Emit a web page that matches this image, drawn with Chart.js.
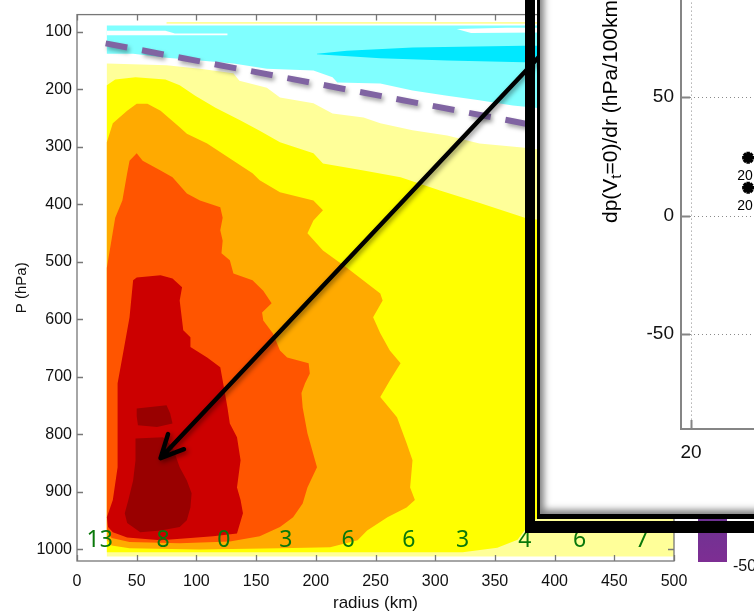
<!DOCTYPE html>
<html>
<head>
<meta charset="utf-8">
<script src="https://cdn.jsdelivr.net/npm/chart.js"></script>
<style>
  html, body { margin: 0; padding: 0; background: #fff; }
  body { width: 754px; height: 615px; position: relative; overflow: hidden; }
  #main { position: absolute; left: 0; top: 0; }
  #insetBox { position: absolute; left: 537px; top: -20px; width: 300px; height: 539px; box-sizing: border-box;
    background: #fff; border-left: 3px solid #000; border-bottom: 5px solid #000;
    box-shadow: inset 7px -7px 7px -3px rgba(0,0,0,0.5); }
  #inset { position: absolute; left: 540px; top: -40px; }
  #frame { position: absolute; left: 525px; top: -20px; width: 300px; height: 553px; box-sizing: border-box;
    border-left: 10px solid #000; border-bottom: 12px solid #000; }
</style>
</head>
<body>
<canvas id="main" width="754" height="615"></canvas>
<div id="insetBox"></div>
<canvas id="inset" width="400" height="553"></canvas>
<div id="frame"></div>
<script>
  // axes
  const xTicks = [0, 50, 100, 150, 200, 250, 300, 350, 400, 450, 500];
  const yTicks = [100, 200, 300, 400, 500, 600, 700, 800, 900, 1000];

  // filled contour regions, [radius km, pressure hPa]
  const paleYellowArea = [[25,155],[75,158],[103,164],[131,172],[136,185],[159,197],[170,214],[198,224],[214,242],[240,249],[254,259],[281,271],[310,280],[327,289],[337,294],[373,301],[500,332],[500,1012],[25,1012]];
  const cyanArea = [[25,89],[500,89],[500,263],[388,233],[365,228],[337,219],[310,211],[281,202],[254,190],[218,188],[214,179],[198,167],[159,164],[131,155],[103,150],[75,145],[47,138],[25,138]];
  const darkCyanArea = [[201,138],[226,133],[281,127],[374,124],[500,124],[500,153],[374,153],[310,150],[254,146],[201,139]];
  const gapArea1 = [[25,98],[74,98],[82,103],[126,103],[126,106],[25,106]];
  const gapArea2 = [[318,95],[360,93],[388,93],[388,101],[330,102]];
  const topLineArea = [[75,83],[500,83],[500,86],[75,86]];
  const yellowArea = [[25,193],[32,183],[49,179],[74,183],[86,193],[99,211],[116,232],[137,254],[153,272],[170,292],[198,311],[206,329],[240,341],[271,353],[304,376],[338,398],[375,423],[500,463],[438,827],[388,940],[375,966],[369,983],[352,997],[323,1005],[254,1005],[25,1005]];
  const orangeArea = [[25,292],[30,259],[42,237],[50,225],[59,225],[70,237],[86,266],[92,277],[109,294],[131,324],[147,346],[153,358],[170,379],[198,393],[206,410],[198,428],[193,450],[206,480],[226,510],[254,555],[256,567],[248,596],[254,624],[262,654],[271,676],[262,706],[254,735],[268,770],[276,815],[281,845],[279,892],[283,914],[276,927],[260,944],[243,967],[235,984],[212,996],[170,998],[103,1000],[44,998],[29,993],[25,984]];
  const orangeRedArea = [[25,510],[32,423],[38,393],[42,346],[44,324],[50,311],[55,324],[70,341],[80,353],[92,381],[103,393],[120,405],[122,423],[120,445],[122,463],[121,485],[128,497],[131,520],[147,532],[156,550],[163,572],[155,588],[156,602],[164,624],[170,654],[176,666],[194,676],[195,694],[191,711],[188,728],[189,753],[193,798],[201,857],[193,892],[189,920],[181,944],[170,961],[153,977],[128,986],[86,989],[44,987],[29,980],[25,967]];
  const redArea = [[47,532],[50,527],[70,523],[80,529],[88,544],[86,567],[89,619],[95,631],[95,648],[109,666],[120,683],[122,706],[126,753],[128,781],[134,805],[137,845],[134,892],[137,914],[139,937],[134,972],[114,977],[95,980],[70,984],[42,979],[30,970],[26,961],[25,944],[30,914],[34,857],[34,775],[34,711],[39,654],[44,596]];
  const darkRedArea1 = [[50,755],[75,749],[78,763],[80,781],[67,787],[51,784],[50,768]];
  const darkRedArea2 = [[49,807],[72,805],[80,822],[86,857],[92,880],[96,902],[95,927],[92,949],[86,961],[70,967],[53,970],[42,954],[40,937],[43,914],[47,880],[49,845]];

  const tropopauseLine = [[24,120],[500,309]];
  const arrowFrom = [388, 141];
  const arrowTo = [70, 841];

  const bottomLabelR = [19, 72, 123, 175, 227, 278, 323, 375, 421, 473];
  const bottomLabelText = ['13', '8', '0', '3', '6', '6', '3', '4', '6', '7'];
  const bottomLabelP = 996;

  const cbarLabel = '-50';

  // inset
  const insetX = [32.7, 32.7];
  const insetY = [24.4, 11.8];
  const insetPointLabels = ['20', '20'];
  const insetXTicks = [20, 40, 60];
  const insetYTicks = [-50, 0, 50];

  const FONT = "'Liberation Sans', Arial, sans-serif";

  const layers = [
    [paleYellowArea, '#FFFF99'],
    [cyanArea, '#80FFFF'],
    [darkCyanArea, '#00E8FF'],
    [gapArea1, '#FFFFFF'],
    [gapArea2, '#FFFFFF'],
    [topLineArea, '#FFFF99'],
    [yellowArea, '#FFFF00'],
    [orangeArea, '#FFAA00'],
    [orangeRedArea, '#FF5500'],
    [redArea, '#CC0000'],
    [darkRedArea1, '#990000'],
    [darkRedArea2, '#990000']
  ];

  const toXY = arr => arr.map(([x, y]) => ({ x, y }));

  const datasets = layers.map(([pts, col], i) => ({
    data: toXY(pts),
    backgroundColor: col,
    borderColor: 'rgba(0,0,0,0)',
    borderWidth: 0,
    fill: 'shape',
    pointRadius: 0,
    tension: 0,
    order: 100 - i
  }));
  datasets.push({
    data: toXY(tropopauseLine),
    borderColor: '#8064A2',
    borderWidth: 6,
    borderDash: [22, 15],
    borderCapStyle: 'butt',
    fill: false,
    pointRadius: 0,
    order: 0,
    isDash: true
  });

  const mainDecor = {
    id: 'mainDecor',
    beforeDatasetDraw(chart, args) {
      if (chart.data.datasets[args.index].isDash) {
        const ctx = chart.ctx;
        ctx.save();
        ctx.shadowColor = 'rgba(0,0,0,0.35)';
        ctx.shadowBlur = 4;
        ctx.shadowOffsetX = 2;
        ctx.shadowOffsetY = 3;
      }
    },
    afterDatasetDraw(chart, args) {
      if (chart.data.datasets[args.index].isDash) chart.ctx.restore();
    },
    afterDatasetsDraw(chart) {
      const { ctx, scales: { x, y } } = chart;
      // green numbers along the bottom
      ctx.save();
      ctx.fillStyle = '#0A780A';
      ctx.font = "23px 'Noto Sans', sans-serif";
      ctx.textAlign = 'center';
      ctx.textBaseline = 'alphabetic';
      bottomLabelR.forEach((r, i) => {
        ctx.fillText(bottomLabelText[i], x.getPixelForValue(r), y.getPixelForValue(bottomLabelP));
      });
      ctx.restore();

      // arrow
      const x0 = x.getPixelForValue(arrowFrom[0]), y0 = y.getPixelForValue(arrowFrom[1]);
      const x1 = x.getPixelForValue(arrowTo[0]), y1 = y.getPixelForValue(arrowTo[1]);
      const ang = Math.atan2(y0 - y1, x0 - x1);
      const len = 25, spread = 26 * Math.PI / 180;
      ctx.save();
      ctx.strokeStyle = '#000';
      ctx.lineWidth = 4.5;
      ctx.lineCap = 'round';
      ctx.lineJoin = 'round';
      ctx.shadowColor = 'rgba(0,0,0,0.45)';
      ctx.shadowBlur = 5;
      ctx.shadowOffsetX = 2;
      ctx.shadowOffsetY = 2;
      ctx.beginPath();
      ctx.moveTo(x0, y0);
      ctx.lineTo(x1, y1);
      ctx.moveTo(x1 + len * Math.cos(ang - spread), y1 + len * Math.sin(ang - spread));
      ctx.lineTo(x1, y1);
      ctx.lineTo(x1 + len * Math.cos(ang + spread), y1 + len * Math.sin(ang + spread));
      ctx.stroke();
      ctx.restore();
    },
    afterDraw(chart) {
      const { ctx, chartArea: { left, right, top, bottom }, scales: { x, y } } = chart;
      ctx.save();
      ctx.strokeStyle = '#777';
      ctx.lineWidth = 1.3;
      ctx.strokeRect(left, top, right - left, bottom - top);
      ctx.beginPath();
      xTicks.forEach(v => {
        const px = Math.round(x.getPixelForValue(v)) + 0.5;
        ctx.moveTo(px, bottom); ctx.lineTo(px, bottom - 6);
        ctx.moveTo(px, top); ctx.lineTo(px, top + 6);
      });
      yTicks.forEach(v => {
        const py = Math.round(y.getPixelForValue(v)) + 0.5;
        ctx.moveTo(left, py); ctx.lineTo(left + 6, py);
        ctx.moveTo(right, py); ctx.lineTo(right - 6, py);
      });
      ctx.stroke();

      // colorbar piece
      const cx = right + 24;
      const g = ctx.createLinearGradient(0, bottom - 60, 0, bottom);
      g.addColorStop(0, '#673593');
      g.addColorStop(1, '#7D2E93');
      ctx.fillStyle = g;
      ctx.fillRect(cx, bottom - 60, 29, 61);
      ctx.fillStyle = '#111';
      ctx.font = '16px ' + FONT;
      ctx.textAlign = 'left';
      ctx.textBaseline = 'middle';
      ctx.fillText(cbarLabel, cx + 35, bottom + 6);
      ctx.restore();
    }
  };

  new Chart(document.getElementById('main'), {
    type: 'line',
    data: { datasets: datasets },
    options: {
      responsive: false,
      animation: false,
      events: [],
      layout: { padding: { left: 0, top: 14, right: 80, bottom: 0 } },
      plugins: { legend: { display: false }, tooltip: { enabled: false } },
      scales: {
        x: {
          type: 'linear', min: 0, max: 500,
          afterBuildTicks: s => { s.ticks = xTicks.map(v => ({ value: v })); },
          afterFit: s => { s.height = 54; },
          grid: { display: false, drawTicks: false },
          border: { display: false },
          ticks: { color: '#111', font: { family: FONT, size: 16 }, padding: 11, maxRotation: 0, autoSkip: false, callback: v => String(v) },
          title: { display: true, text: 'radius (km)', color: '#111', font: { family: FONT, size: 17, lineHeight: 1.2 }, padding: { top: 0, bottom: 1 } }
        },
        y: {
          type: 'linear', min: 70, max: 1020, reverse: true,
          afterBuildTicks: s => { s.ticks = yTicks.map(v => ({ value: v })); },
          afterFit: s => { s.width = 77; },
          grid: { display: false, drawTicks: false },
          border: { display: false },
          ticks: { color: '#111', font: { family: FONT, size: 16 }, padding: 5, autoSkip: false, callback: v => String(v) },
          title: { display: true, text: 'P (hPa)', color: '#111', font: { family: FONT, size: 15, lineHeight: 1.2 }, padding: { top: 13, bottom: 0 } }
        }
      }
    },
    plugins: [mainDecor]
  });

  const insetDecor = {
    id: 'insetDecor',
    beforeDatasetsDraw(chart) {
      const { ctx, chartArea: { left, right, top, bottom }, scales: { x, y } } = chart;
      ctx.save();
      ctx.strokeStyle = '#8a8a8a';
      ctx.lineWidth = 1;
      ctx.setLineDash([1, 3]);
      ctx.beginPath();
      insetYTicks.forEach(v => {
        const py = Math.round(y.getPixelForValue(v)) + 0.5;
        ctx.moveTo(left + 9, py); ctx.lineTo(right, py);
      });
      insetXTicks.forEach(v => {
        const px = Math.round(x.getPixelForValue(v)) + 0.5;
        ctx.moveTo(px, top); ctx.lineTo(px, bottom - 9);
      });
      ctx.stroke();
      ctx.restore();
    },
    afterDraw(chart) {
      const { ctx, chartArea: { left, right, top, bottom }, scales: { x, y } } = chart;
      ctx.save();
      ctx.strokeStyle = '#858585';
      ctx.lineWidth = 2;
      ctx.beginPath();
      ctx.moveTo(left, 0); ctx.lineTo(left, bottom); ctx.lineTo(chart.width, bottom);
      insetYTicks.forEach(v => {
        const py = Math.round(y.getPixelForValue(v)) + 0.5;
        ctx.moveTo(left, py); ctx.lineTo(left + 9, py);
      });
      insetXTicks.forEach(v => {
        const px = Math.round(x.getPixelForValue(v)) + 0.5;
        ctx.moveTo(px, bottom); ctx.lineTo(px, bottom - 9);
      });
      ctx.stroke();

      // y axis title with subscript
      ctx.fillStyle = '#000';
      ctx.translate(71, 263);
      ctx.rotate(-Math.PI / 2);
      ctx.textBaseline = 'middle';
      ctx.textAlign = 'left';
      ctx.font = '21px ' + FONT;
      const a = 'dp(V';
      ctx.fillText(a, 0, 0);
      let w = ctx.measureText(a).width;
      ctx.font = '15px ' + FONT;
      ctx.fillText('t', w, 6);
      w += ctx.measureText('t').width;
      ctx.font = '21px ' + FONT;
      ctx.fillText('=0)/dr (hPa/100km)', w, 0);
      ctx.setTransform(1, 0, 0, 1, 0, 0);

      // point labels
      ctx.font = '14px ' + FONT;
      ctx.textAlign = 'left';
      ctx.textBaseline = 'middle';
      insetX.forEach((v, i) => {
        ctx.fillText(insetPointLabels[i], x.getPixelForValue(v) - 11, y.getPixelForValue(insetY[i]) + 18);
      });
      ctx.restore();
    }
  };

  new Chart(document.getElementById('inset'), {
    type: 'scatter',
    data: {
      datasets: [{
        data: insetX.map((v, i) => ({ x: v, y: insetY[i] })),
        pointStyle: 'star',
        pointRadius: 6,
        borderWidth: 3.5,
        borderColor: '#000',
        backgroundColor: '#000'
      }]
    },
    options: {
      responsive: false,
      animation: false,
      events: [],
      layout: { padding: { left: 0, top: 18.6, right: 69, bottom: 0 } },
      plugins: { legend: { display: false }, tooltip: { enabled: false } },
      scales: {
        x: {
          type: 'linear', min: 17.78, max: 60,
          afterBuildTicks: s => { s.ticks = insetXTicks.map(v => ({ value: v })); },
          afterFit: s => { s.height = 84; },
          grid: { display: false, drawTicks: false },
          border: { display: false },
          ticks: { color: '#111', font: { family: FONT, size: 19 }, padding: 12.6, maxRotation: 0, autoSkip: false }
        },
        y: {
          type: 'linear', min: -90, max: 100,
          afterBuildTicks: s => { s.ticks = insetYTicks.map(v => ({ value: v })); },
          afterFit: s => { s.width = 141; },
          grid: { display: false, drawTicks: false },
          border: { display: false },
          ticks: { color: '#111', font: { family: FONT, size: 19 }, padding: 7, autoSkip: false }
        }
      }
    },
    plugins: [insetDecor]
  });
</script>
</body>
</html>
